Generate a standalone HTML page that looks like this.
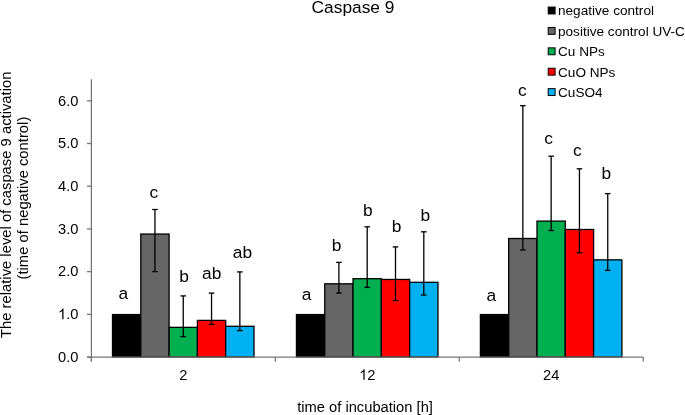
<!DOCTYPE html><html><head><meta charset="utf-8"><style>html,body{margin:0;padding:0;background:#fff;}svg{display:block;will-change:transform;}text{font-family:"Liberation Sans", sans-serif;fill:#000;}</style></head><body>
<svg width="685" height="415" viewBox="0 0 685 415">
<rect width="685" height="415" fill="#fff"/>
<text x="353" y="13" font-size="17.33" text-anchor="middle">Caspase 9</text>
<rect x="112.50" y="314.55" width="28.30" height="42.50" fill="#000000" stroke="#000" stroke-width="1.3"/>
<rect x="140.80" y="234.05" width="28.30" height="123.00" fill="#666666" stroke="#000" stroke-width="1.3"/>
<rect x="169.10" y="327.35" width="28.30" height="29.70" fill="#00B050" stroke="#000" stroke-width="1.3"/>
<rect x="197.40" y="320.40" width="28.30" height="36.65" fill="#FF0000" stroke="#000" stroke-width="1.3"/>
<rect x="225.70" y="326.30" width="28.30" height="30.75" fill="#00B0F0" stroke="#000" stroke-width="1.3"/>
<rect x="296.45" y="314.55" width="28.30" height="42.50" fill="#000000" stroke="#000" stroke-width="1.3"/>
<rect x="324.75" y="283.80" width="28.30" height="73.25" fill="#666666" stroke="#000" stroke-width="1.3"/>
<rect x="353.05" y="278.70" width="28.30" height="78.35" fill="#00B050" stroke="#000" stroke-width="1.3"/>
<rect x="381.35" y="279.45" width="28.30" height="77.60" fill="#FF0000" stroke="#000" stroke-width="1.3"/>
<rect x="409.65" y="282.30" width="28.30" height="74.75" fill="#00B0F0" stroke="#000" stroke-width="1.3"/>
<rect x="480.40" y="314.55" width="28.30" height="42.50" fill="#000000" stroke="#000" stroke-width="1.3"/>
<rect x="508.70" y="238.50" width="28.30" height="118.55" fill="#666666" stroke="#000" stroke-width="1.3"/>
<rect x="537.00" y="221.10" width="28.30" height="135.95" fill="#00B050" stroke="#000" stroke-width="1.3"/>
<rect x="565.30" y="229.50" width="28.30" height="127.55" fill="#FF0000" stroke="#000" stroke-width="1.3"/>
<rect x="593.60" y="259.85" width="28.30" height="97.20" fill="#00B0F0" stroke="#000" stroke-width="1.3"/>
<g stroke="#777777" stroke-width="1.3" fill="none">
<line x1="91.4" y1="79.3" x2="91.4" y2="361.6"/>
<line x1="87" y1="357.05" x2="643.2" y2="357.05"/>
<line x1="87" y1="357.05" x2="91.4" y2="357.05"/>
<line x1="87" y1="314.34" x2="91.4" y2="314.34"/>
<line x1="87" y1="271.63" x2="91.4" y2="271.63"/>
<line x1="87" y1="228.93" x2="91.4" y2="228.93"/>
<line x1="87" y1="186.22" x2="91.4" y2="186.22"/>
<line x1="87" y1="143.51" x2="91.4" y2="143.51"/>
<line x1="87" y1="100.80" x2="91.4" y2="100.80"/>
<line x1="91.40" y1="357.05" x2="91.40" y2="361.6"/>
<line x1="275.35" y1="357.05" x2="275.35" y2="361.6"/>
<line x1="459.30" y1="357.05" x2="459.30" y2="361.6"/>
<line x1="643.25" y1="357.05" x2="643.25" y2="361.6"/>
</g>
<g stroke="#000" stroke-width="1.3" fill="none">
<line x1="154.95" y1="209.5" x2="154.95" y2="271.6"/>
<line x1="152.15" y1="209.5" x2="157.75" y2="209.5"/>
<line x1="152.15" y1="271.6" x2="157.75" y2="271.6"/>
<line x1="183.25" y1="295.9" x2="183.25" y2="336.6"/>
<line x1="180.45" y1="295.9" x2="186.05" y2="295.9"/>
<line x1="180.45" y1="336.6" x2="186.05" y2="336.6"/>
<line x1="211.55" y1="293.1" x2="211.55" y2="324.3"/>
<line x1="208.75" y1="293.1" x2="214.35" y2="293.1"/>
<line x1="208.75" y1="324.3" x2="214.35" y2="324.3"/>
<line x1="239.85" y1="271.9" x2="239.85" y2="330.6"/>
<line x1="237.05" y1="271.9" x2="242.65" y2="271.9"/>
<line x1="237.05" y1="330.6" x2="242.65" y2="330.6"/>
<line x1="338.90" y1="262.4" x2="338.90" y2="293.1"/>
<line x1="336.10" y1="262.4" x2="341.70" y2="262.4"/>
<line x1="336.10" y1="293.1" x2="341.70" y2="293.1"/>
<line x1="367.20" y1="226.8" x2="367.20" y2="287.4"/>
<line x1="364.40" y1="226.8" x2="370.00" y2="226.8"/>
<line x1="364.40" y1="287.4" x2="370.00" y2="287.4"/>
<line x1="395.50" y1="246.9" x2="395.50" y2="300.5"/>
<line x1="392.70" y1="246.9" x2="398.30" y2="246.9"/>
<line x1="392.70" y1="300.5" x2="398.30" y2="300.5"/>
<line x1="423.80" y1="231.8" x2="423.80" y2="295.0"/>
<line x1="421.00" y1="231.8" x2="426.60" y2="231.8"/>
<line x1="421.00" y1="295.0" x2="426.60" y2="295.0"/>
<line x1="522.85" y1="105.7" x2="522.85" y2="249.9"/>
<line x1="520.05" y1="105.7" x2="525.65" y2="105.7"/>
<line x1="520.05" y1="249.9" x2="525.65" y2="249.9"/>
<line x1="551.15" y1="156.2" x2="551.15" y2="230.5"/>
<line x1="548.35" y1="156.2" x2="553.95" y2="156.2"/>
<line x1="548.35" y1="230.5" x2="553.95" y2="230.5"/>
<line x1="579.45" y1="168.8" x2="579.45" y2="252.7"/>
<line x1="576.65" y1="168.8" x2="582.25" y2="168.8"/>
<line x1="576.65" y1="252.7" x2="582.25" y2="252.7"/>
<line x1="607.75" y1="193.6" x2="607.75" y2="270.4"/>
<line x1="604.95" y1="193.6" x2="610.55" y2="193.6"/>
<line x1="604.95" y1="270.4" x2="610.55" y2="270.4"/>
</g>
<text x="123.35" y="298.70" font-size="17.33" text-anchor="middle">a</text>
<text x="153.80" y="198.10" font-size="17.33" text-anchor="middle">c</text>
<text x="184.10" y="281.70" font-size="17.33" text-anchor="middle">b</text>
<text x="211.70" y="278.50" font-size="17.33" text-anchor="middle">ab</text>
<text x="242.50" y="258.00" font-size="17.33" text-anchor="middle">ab</text>
<text x="306.60" y="299.70" font-size="17.33" text-anchor="middle">a</text>
<text x="336.55" y="250.70" font-size="17.33" text-anchor="middle">b</text>
<text x="367.75" y="215.90" font-size="17.33" text-anchor="middle">b</text>
<text x="396.50" y="231.50" font-size="17.33" text-anchor="middle">b</text>
<text x="425.35" y="220.90" font-size="17.33" text-anchor="middle">b</text>
<text x="491.20" y="301.40" font-size="17.33" text-anchor="middle">a</text>
<text x="522.30" y="96.30" font-size="17.33" text-anchor="middle">c</text>
<text x="548.60" y="144.40" font-size="17.33" text-anchor="middle">c</text>
<text x="577.30" y="156.30" font-size="17.33" text-anchor="middle">c</text>
<text x="606.40" y="178.50" font-size="17.33" text-anchor="middle">b</text>
<text x="78.45" y="361.85" font-size="14.67" text-anchor="end" transform="translate(0,361.850) scale(1,1.045) translate(0,-361.850)">0.0</text>
<path d="M763 0L583 0L583 1147Q518 1085 412 1023Q306 961 222 930L222 1104Q373 1175 486 1276Q599 1377 646 1472L763 1472Z" transform="translate(58.057,319.142) scale(0.007163,-0.007163)" fill="#000"/><text x="66.22" y="319.14" font-size="14.67" transform="translate(0,319.142) scale(1,1.045) translate(0,-319.142)">.</text><text x="70.29" y="319.14" font-size="14.67" transform="translate(0,319.142) scale(1,1.045) translate(0,-319.142)">0</text>
<text x="78.45" y="276.43" font-size="14.67" text-anchor="end" transform="translate(0,276.433) scale(1,1.045) translate(0,-276.433)">2.0</text>
<text x="78.45" y="233.73" font-size="14.67" text-anchor="end" transform="translate(0,233.725) scale(1,1.045) translate(0,-233.725)">3.0</text>
<text x="78.45" y="191.02" font-size="14.67" text-anchor="end" transform="translate(0,191.017) scale(1,1.045) translate(0,-191.017)">4.0</text>
<text x="78.45" y="148.31" font-size="14.67" text-anchor="end" transform="translate(0,148.308) scale(1,1.045) translate(0,-148.308)">5.0</text>
<text x="78.45" y="105.60" font-size="14.67" text-anchor="end" transform="translate(0,105.600) scale(1,1.045) translate(0,-105.600)">6.0</text>
<text x="183.38" y="379.80" font-size="14.67" text-anchor="middle" transform="translate(0,379.800) scale(1,1.045) translate(0,-379.800)">2</text>
<path d="M763 0L583 0L583 1147Q518 1085 412 1023Q306 961 222 930L222 1104Q373 1175 486 1276Q599 1377 646 1472L763 1472Z" transform="translate(359.166,379.800) scale(0.007163,-0.007163)" fill="#000"/><text x="367.32" y="379.80" font-size="14.67" transform="translate(0,379.800) scale(1,1.045) translate(0,-379.800)">2</text>
<text x="551.27" y="379.80" font-size="14.67" text-anchor="middle" transform="translate(0,379.800) scale(1,1.045) translate(0,-379.800)">24</text>
<text x="365.05" y="411.6" font-size="14.72" text-anchor="middle">time of incubation [h]</text>
<text transform="translate(10.9,204.8) rotate(-90)" font-size="14.8" text-anchor="middle">The relative level of caspase 9 activation</text>
<text transform="translate(27.6,198.1) rotate(-90)" font-size="14.8" text-anchor="middle">(time of negative control)</text>
<rect x="548.2" y="7.05" width="6.9" height="6.9" fill="#000000" stroke="#000" stroke-width="1"/>
<text x="558" y="15.35" font-size="13.6">negative control</text>
<rect x="548.2" y="27.45" width="6.9" height="6.9" fill="#666666" stroke="#000" stroke-width="1"/>
<text x="558" y="35.75" font-size="13.6">positive control UV-C</text>
<rect x="548.2" y="47.85" width="6.9" height="6.9" fill="#00B050" stroke="#000" stroke-width="1"/>
<text x="558" y="56.15" font-size="13.6">Cu NPs</text>
<rect x="548.2" y="68.25" width="6.9" height="6.9" fill="#FF0000" stroke="#000" stroke-width="1"/>
<text x="558" y="76.55" font-size="13.6">CuO NPs</text>
<rect x="548.2" y="88.65" width="6.9" height="6.9" fill="#00B0F0" stroke="#000" stroke-width="1"/>
<text x="558" y="96.95" font-size="13.6">CuSO4</text>
</svg></body></html>
